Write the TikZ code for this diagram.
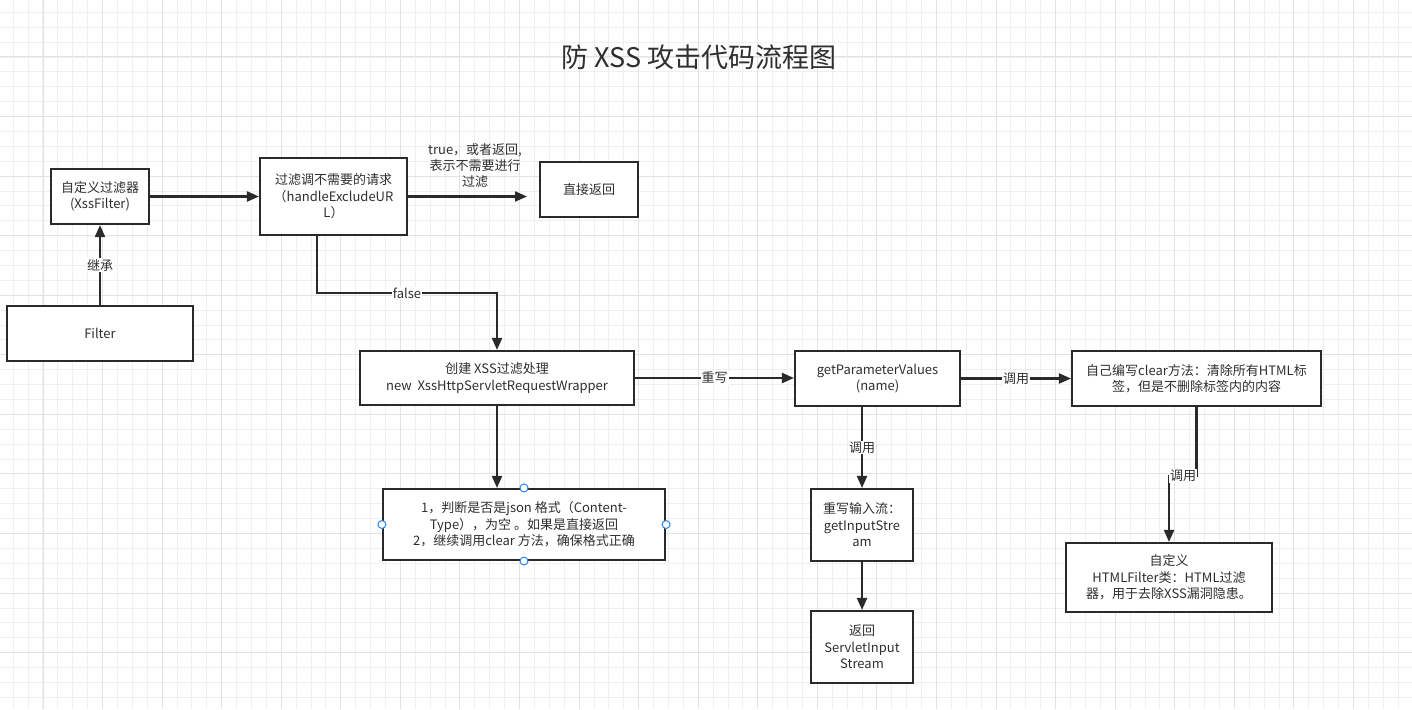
\documentclass[tikz,border=0pt]{standalone}
\usepackage{fontspec}
\setmainfont{Noto Sans CJK SC}
\usetikzlibrary{arrows.meta}
\definecolor{txt}{HTML}{2F2F2F}
\definecolor{edgec}{HTML}{2A2A2A}
\definecolor{gminor}{HTML}{EFEFEF}
\definecolor{gmajor}{HTML}{E2E2E2}
\definecolor{handlec}{HTML}{2A86F0}
\begin{document}
\begin{tikzpicture}[x=1pt,y=-1pt,
  box/.style={draw=edgec, line width=2.1pt, rectangle, fill=white, text=txt, align=center,
              font=\fontsize{13}{16.5}\selectfont, inner sep=2pt},
  conn/.style={draw=edgec, line width=2.1pt, -{Triangle[length=12pt,width=10pt]}},
  lbl/.style={fill=white, text=txt, font=\fontsize{13}{16}\selectfont, inner sep=1pt},
  hdl/.style={circle, draw=handlec, fill=white, line width=1pt, minimum size=8pt, inner sep=0pt}]
\useasboundingbox (0,0) rectangle (1412,709);
\fill[white] (0,0) rectangle (1412,709);
% grid
\foreach \i in {1,...,95} {\draw[gminor, line width=1pt] ({-1.68+14.892*\i},0) -- ({-1.68+14.892*\i},709);}
\foreach \i in {1,...,48} {\draw[gminor, line width=1pt] (0,{-2.56+14.892*\i}) -- (1412,{-2.56+14.892*\i});}
\foreach \i in {0,...,23} {\draw[gmajor, line width=1pt] ({43+59.57*\i},0) -- ({43+59.57*\i},709);}
\foreach \i in {0,...,11} {\draw[gmajor, line width=1pt] (0,{57+59.57*\i}) -- (1412,{57+59.57*\i});}

% title
\node[text=txt, font=\fontsize{27}{31}\selectfont] (title) at (699,57) {防 XSS 攻击代码流程图};

% boxes
\node[box, minimum width=98pt, minimum height=55pt] (xss) at (100,196.5) {自定义过滤器\\(XssFilter)};
\node[box, minimum width=186pt, minimum height=55pt] (filter) at (100,333.5) {Filter};
\node[box, minimum width=147pt, minimum height=77pt] (excl) at (333.5,196.5) {过滤调不需要的请求\\（handleExcludeUR\\L）};
\node[box, minimum width=98pt, minimum height=55pt] (ret) at (589,189.5) {直接返回};
\node[box, minimum width=274pt, minimum height=54pt] (create) at (497,378) {创建 XSS过滤处理\\new\ \ XssHttpServletRequestWrapper};
\node[box, minimum width=282pt, minimum height=71pt] (judge) at (524,524.5) {1，判断是否是json 格式（Content-\\Type），为空 。如果是直接返回\\2，继续调用clear 方法，确保格式正确};
\node[box, minimum width=165pt, minimum height=55pt] (gpv) at (877.5,378.5) {getParameterValues\\(name)};
\node[box, minimum width=249pt, minimum height=55pt] (clear) at (1196.5,378.5) {自己编写clear方法：清除所有HTML标\\签，但是不删除标签内的内容};
\node[box, minimum width=102pt, minimum height=72pt] (gis) at (862,525) {重写输入流：\\getInputStre\\am};
\node[box, minimum width=102pt, minimum height=72pt] (sis) at (862,647) {返回\\ServletInput\\Stream};
\node[box, minimum width=206pt, minimum height=69pt] (html) at (1169,577.5) {自定义\\HTMLFilter类：HTML过滤\\器，用于去除XSS漏洞隐患。};

% selection handles
\node[hdl] (h1) at (judge.north) {};
\node[hdl] (h2) at (judge.south) {};
\node[hdl] (h3) at (judge.west) {};
\node[hdl] (h4) at (judge.east) {};

% connectors
\draw[conn] (filter.north) -- node[lbl] {继承} (xss.south);
\draw[conn] (xss.east) -- (xss.east -| excl.west);
\coordinate (tipret) at (527,197);
\draw[conn] (excl.east) -- (excl.east -| tipret);
\node[text=txt, align=center, font=\fontsize{13}{16}\selectfont] (truelbl) at (475,166) {true，或者返回,\\表示不需要进行\\过滤};
\coordinate (f1) at (317,293);
\draw[conn] (excl.south -| f1) -- (f1) -- node[lbl] {false} (f1 -| create.north) -- (create.north);
\draw[conn] (create.east) -- node[lbl] {重写} (create.east -| gpv.west);
\draw[conn] (gpv.east) -- node[lbl] {调用} (gpv.east -| clear.west);
\draw[conn] (create.south) -- (create.south |- judge.north);
\draw[conn] (gpv.south -| gis.north) -- node[lbl] {调用} (gis.north);
\draw[conn] (gis.south) -- (sis.north);
\coordinate (jog) at (1169,476);
\draw[conn] (clear.south) |- (jog) -- (html.north -| jog);
\node[lbl] (calllbl) at (1183,476) {调用};
\end{tikzpicture}
\end{document}
